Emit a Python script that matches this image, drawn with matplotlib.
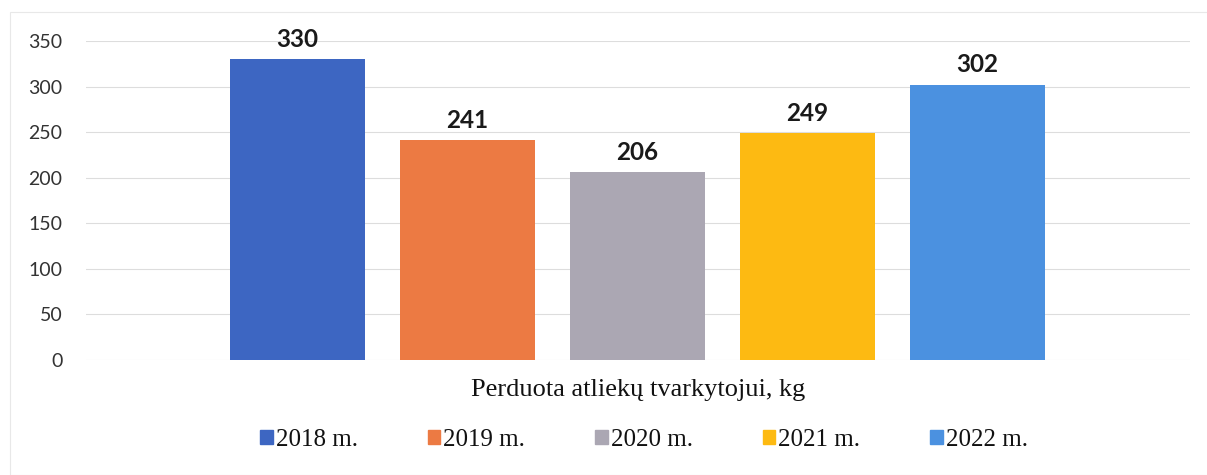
import matplotlib
matplotlib.use("Agg")
import matplotlib.pyplot as plt
from matplotlib.patches import Rectangle

years = ["2018 m.", "2019 m.", "2020 m.", "2021 m.", "2022 m."]
values = [330, 241, 206, 249, 302]
colors = ["#3D66C2", "#EC7A43", "#ABA7B3", "#FDBA12", "#4B91E0"]
xlabel = "Perduota atliekų tvarkytojui, kg"
yticks = [0, 50, 100, 150, 200, 250, 300, 350]

W, H = 1207, 475
fig = plt.figure(figsize=(W / 100, H / 100), dpi=100)
fig.patch.set_facecolor("white")

# faint outer chart border
fig.add_artist(Rectangle((10 / W, 0), 1.2, 1 - 12 / H, transform=fig.transFigure,
                         fill=False, edgecolor="#E8E8E8", linewidth=0.8))

left, right, top, bottom = 86, 1190, 41, 360
ax = fig.add_axes([left / W, 1 - bottom / H, (right - left) / W, (bottom - top) / H])

step = 170.0
c0 = 297.0
x = list(range(len(values)))
ax.set_xlim((left - c0) / step, (right - c0) / step)
ax.set_ylim(0, 350)

ax.bar(x, values, width=135 / step, color=colors, zorder=3)
for xi, v in zip(x, values):
    ax.annotate(str(v), (xi, v), xytext=(0, 6), textcoords="offset points",
                ha="center", va="bottom", fontsize=17.5, fontweight="bold",
                family="Lato", color="#1a1a1a")

ax.set_yticks(yticks)
ax.set_yticklabels([str(t) for t in yticks], family="Lato", fontsize=14, color="#333333")
ax.tick_params(axis="y", length=0, pad=17)
ax.set_xticks([])
ax.grid(axis="y", color="#DDDDDD", linewidth=0.8, zorder=0)
for s in ax.spines.values():
    s.set_visible(False)

fig.text(638 / W, 1 - 390 / H, xlabel, ha="center", va="center",
         family="Liberation Serif", fontsize=19, color="#111111")

handles = [Rectangle((0, 0), 1, 1, color=c) for c in colors]
leg = fig.legend(handles, years, loc="center", bbox_to_anchor=(644 / W, 1 - 440 / H),
                 ncol=5, frameon=False, handlelength=0.5, handleheight=0.5,
                 handletextpad=0.12, columnspacing=2.8,
                 prop={"family": "Liberation Serif", "size": 18})
for t in leg.get_texts():
    t.set_color("#111111")

fig.savefig("out.png", dpi=100, facecolor="white")
